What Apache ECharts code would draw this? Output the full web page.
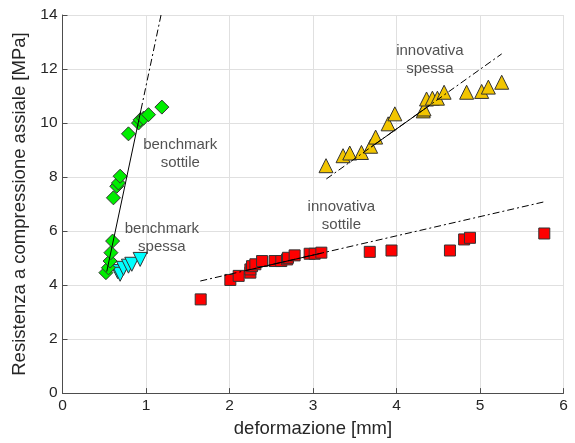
<!DOCTYPE html>
<html><head><meta charset="utf-8">
<script src="https://cdn.jsdelivr.net/npm/echarts@6/dist/echarts.min.js"></script>
<style>html,body{margin:0;padding:0;background:#fff}#c{width:575px;height:443px}</style>
</head><body><div id="c"></div>
<script>
var xTicks = [0,1,2,3,4,5,6];
var yTicks = [0,2,4,6,8,10,12,14];
var benchmarkSottile = [[0.52,4.46],[0.55,4.64],[0.57,4.89],[0.58,5.2],[0.60,5.63],[0.61,7.23],[0.65,7.66],[0.67,7.78],[0.69,8.03],[0.79,9.6],[0.91,10.0],[0.93,10.12],[0.97,10.18],[1.03,10.31],[1.19,10.59]];
var benchmarkSpessa = [[0.66,4.5],[0.69,4.4],[0.73,4.62],[0.79,4.7],[0.83,4.77],[0.93,4.95]];
var innovativaSottile = [[1.655,3.47],[2.01,4.19],[2.11,4.34],[2.25,4.46],[2.25,4.58],[2.27,4.70],[2.31,4.77],[2.39,4.89],[2.54,4.89],[2.62,4.89],[2.69,4.95],[2.70,5.01],[2.78,5.10],[2.96,5.16],[3.02,5.16],[3.10,5.20],[3.68,5.23],[3.94,5.28],[4.64,5.28],[4.81,5.69],[4.88,5.75],[5.77,5.91]];
var innovativaSpessa = [[3.156,8.42],[3.36,8.79],[3.44,8.89],[3.58,8.91],[3.69,9.14],[3.75,9.48],[3.90,9.97],[3.98,10.34],[4.32,10.45],[4.33,10.52],[4.36,10.89],[4.43,10.92],[4.49,10.92],[4.57,11.14],[4.84,11.14],[5.02,11.17],[5.10,11.33],[5.26,11.51]];
var fitBSsolid = [[0.53,4.5],[0.94,10.49]];
var fitBSdash = [[0.94,10.49],[1.18,14.0]];
var fitISdash = [[1.65,4.15],[5.78,7.09]];
var fitISsolid = [[2.2,4.54],[3.1,5.18]];
var fitIPdash = [[3.16,7.93],[5.26,12.56]];
var fitIPsolid = [[3.7,9.12],[4.4,10.66]];
var textLabels = [
  {name:'benchmark\nsottile', value:[1.41,8.87]},
  {name:'benchmark\nspessa', value:[1.19,5.76]},
  {name:'innovativa\nsottile', value:[3.34,6.58]},
  {name:'innovativa\nspessa', value:[4.40,12.34]}
];
var FONT = '"Liberation Sans", Arial, sans-serif';
var dashDot = [7,3,2,3];
function lineS(d, dashed){
  return {type:'line', data:d, symbol:'none', silent:true, z:5,
    lineStyle:{color:'#000', width:1, type: dashed ? dashDot : 'solid'}};
}
function scat(d, sym, size, color, rot){
  return {type:'scatter', data:d, symbol:sym, symbolSize:size, symbolRotate:rot||0, z:3,
    itemStyle:{color:color, borderColor:'#333', borderWidth:1, opacity:1}};
}
var chart = echarts.init(document.getElementById('c'), null, {renderer:'canvas'});
chart.setOption({
  animation:false,
  backgroundColor:'#fff',
  grid:{left:62.5, right:11.5, top:15, bottom:49, containLabel:false},
  xAxis:{type:'value', min:0, max:6, interval:1,
    name:'deformazione [mm]', nameLocation:'middle', nameGap:25,
    nameTextStyle:{fontFamily:FONT, fontSize:18.5, color:'#262626'},
    axisLine:{show:true, onZero:false, lineStyle:{color:'#4d4d4d'}},
    axisTick:{show:true, inside:true, length:5, lineStyle:{color:'#4d4d4d'}},
    axisLabel:{fontFamily:FONT, fontSize:15.5, color:'#262626', margin:5},
    splitLine:{show:true, lineStyle:{color:'#e0e0e0'}}},
  yAxis:{type:'value', min:0, max:14, interval:2,
    name:'Resistenza a compressione assiale [MPa]', nameLocation:'middle', nameGap:31,
    nameTextStyle:{fontFamily:FONT, fontSize:18.5, color:'#262626'},
    axisLine:{show:true, onZero:false, lineStyle:{color:'#4d4d4d'}},
    axisTick:{show:true, inside:true, length:5, lineStyle:{color:'#4d4d4d'}},
    axisLabel:{fontFamily:FONT, fontSize:15.5, color:'#262626', margin:5},
    splitLine:{show:true, lineStyle:{color:'#e0e0e0'}}},
  series:[
    scat(innovativaSottile, 'rect', 11, '#ff0000'),
    scat(innovativaSpessa, 'triangle', 14, '#f2c500'),
    scat(benchmarkSpessa, 'triangle', 14, '#00ffff', 180),
    scat(benchmarkSottile, 'diamond', 14, '#00ee00'),
    lineS(fitBSsolid,false), lineS(fitBSdash,true),
    lineS(fitISdash,true), lineS(fitISsolid,false),
    lineS(fitIPdash,true), lineS(fitIPsolid,false),
    {type:'scatter', data:textLabels, symbolSize:0, z:6, silent:true,
      label:{show:true, position:'inside', formatter:function(p){return p.name;},
        fontFamily:FONT, fontSize:15, lineHeight:18, color:'#262626', align:'center'}}
  ]
});
</script></body></html>
